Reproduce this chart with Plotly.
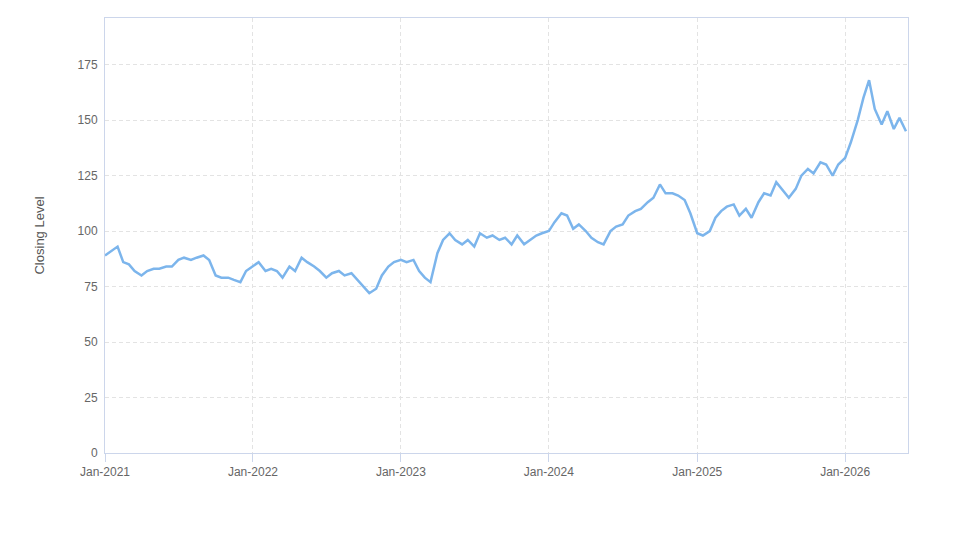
import plotly.graph_objects as go
import pandas as pd

dates = list(pd.date_range("2021-01-01", "2026-05-15", freq="SMS").strftime("%Y-%m-%d")) + ["2026-05-31"]
values = [
 89,91, 93,86, 85,82, 80,82, 83,83, 84,84, 87,88, 87,88, 89,87, 80,79, 79,78, 77,82,
 84,86, 82,83, 82,79, 84,82, 88,86, 84,82, 79,81, 82,80, 81,78, 75,72, 74,80, 84,86,
 87,86, 87,82, 79,77, 90,96, 99,96, 94,96, 93,99, 97,98, 96,97, 94,98, 94,96, 98,99,
 100,104, 108,107, 101,103, 100,97, 95,94, 100,102, 103,107, 109,110, 113,115, 121,117, 117,116, 114,108,
 99,98, 100,106, 109,111, 112,107, 110,106, 113,117, 116,122, 118,115, 119,125, 128,126, 131,130, 125,130,
 133,140, 150,160, 168,155, 148,154, 146,151, 145,
]
dates = dates[:len(values)]

fig = go.Figure(go.Scatter(x=dates, y=values, mode="lines",
                           line=dict(color="#7cb5ec", width=2.5)))
axis_common = dict(showgrid=True, gridcolor="#e3e3e3", griddash="4px,3px",
                   showline=True, linecolor="#ccd6eb", mirror=True,
                   tickfont=dict(family="Arial, Liberation Sans", size=12, color="#666"),
                   zeroline=False)
fig.update_layout(
    width=973, height=547, paper_bgcolor="white", plot_bgcolor="white",
    margin=dict(l=97, r=73, t=10, b=102), showlegend=False,
    xaxis=dict(axis_common, range=["2021-01-01", "2026-06-05"], dtick="M12",
               tickformat="%b-%Y", ticks="outside", tickcolor="#ccd6eb", ticklen=8),
    yaxis=dict(axis_common, range=[0, 196], dtick=25, ticklabelstandoff=4,
               title=dict(text="Closing Level", standoff=30,
                          font=dict(family="Arial, Liberation Sans", size=13, color="#555"))),
)
fig.write_html("out.html")
